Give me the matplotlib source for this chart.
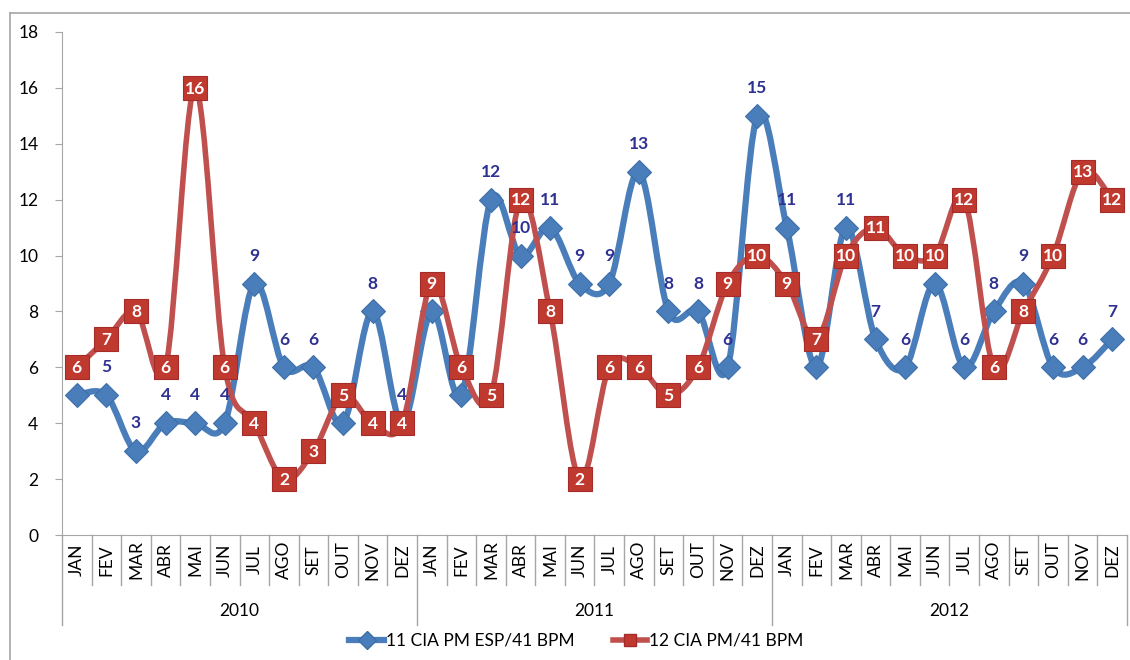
import matplotlib
matplotlib.use("Agg")
import matplotlib.pyplot as plt
from matplotlib.path import Path
from matplotlib.patches import PathPatch
from matplotlib.lines import Line2D

months = ["JAN", "FEV", "MAR", "ABR", "MAI", "JUN",
          "JUL", "AGO", "SET", "OUT", "NOV", "DEZ"]
years = ["2010", "2011", "2012"]

cia11 = [5, 5, 3, 4, 4, 4, 9, 6, 6, 4, 8, 4,
         8, 5, 12, 10, 11, 9, 9, 13, 8, 8, 6, 15,
         11, 6, 11, 7, 6, 9, 6, 8, 9, 6, 6, 7]
cia12 = [6, 7, 8, 6, 16, 6, 4, 2, 3, 5, 4, 4,
         9, 6, 5, 12, 8, 2, 6, 6, 5, 6, 9, 10,
         9, 7, 10, 11, 10, 10, 12, 6, 8, 10, 13, 12]

name11 = "11 CIA PM ESP/41 BPM"
name12 = "12 CIA PM/41 BPM"

BLUE = "#4a7ebb"
RED = "#c0504d"
LABEL_BLUE = "#2e3192"
GRID = "#a6a6a6"
FONT = ["Lato", "DejaVu Sans"]


def smooth_path(xs, ys):
    # excel-like smoothed line: bezier through every point
    pts = list(zip(xs, ys))
    n = len(pts)
    verts = [pts[0]]
    codes = [Path.MOVETO]
    for i in range(n - 1):
        p0 = pts[max(i - 1, 0)]
        p1 = pts[i]
        p2 = pts[i + 1]
        p3 = pts[min(i + 2, n - 1)]
        c1 = (p1[0] + (p2[0] - p0[0]) / 6, p1[1] + (p2[1] - p0[1]) / 6)
        c2 = (p2[0] - (p3[0] - p1[0]) / 6, p2[1] - (p3[1] - p1[1]) / 6)
        verts += [c1, c2, p2]
        codes += [Path.CURVE4] * 3
    return Path(verts, codes)


fig = plt.figure(figsize=(11.3, 6.6), dpi=100)
ax = fig.add_axes([62 / 1130, 1 - 535 / 660, (1127 - 62) / 1130, (535 - 32) / 660])

x = list(range(len(cia11)))

ax.add_patch(PathPatch(smooth_path(x, cia11), fill=False, edgecolor=BLUE,
                       lw=4.5, capstyle="round", joinstyle="round", zorder=2))
ax.plot(x, cia11, ls="none", marker="D", ms=12, mfc=BLUE, mec="#3d6fa8",
        mew=0.8, zorder=3)

ax.add_patch(PathPatch(smooth_path(x, cia12), fill=False, edgecolor=RED,
                       lw=4.0, capstyle="round", joinstyle="round", zorder=3.5))

for xi, v in zip(x, cia11):
    ax.annotate(str(v), (xi, v), xytext=(0, 20), textcoords="offset points",
                ha="center", va="center", color=LABEL_BLUE, fontsize=12.5,
                fontweight="bold", family=FONT, zorder=5)

# red boxes sit above the blue labels, as in the original
ax.plot(x, cia12, ls="none", marker="s", ms=17, mfc="#c0392f", mec="#a52a2a",
        mew=0.8, zorder=6)
for xi, v in zip(x, cia12):
    ax.annotate(str(v), (xi, v), xytext=(0, -0.5), textcoords="offset points",
                ha="center", va="center", color="white", fontsize=12.5,
                fontweight="bold", family=FONT, zorder=7)

ax.set_xlim(-0.5, len(x) - 0.5)
ax.set_ylim(0, 18)
ax.set_yticks(range(0, 19, 2))
ax.set_yticklabels([str(t) for t in range(0, 19, 2)], family=FONT, fontsize=12.5)
ax.tick_params(axis="y", length=5, color=GRID, pad=12)
ax.set_xticks([])

for s in ["top", "right"]:
    ax.spines[s].set_visible(False)
ax.spines["left"].set_color(GRID)
ax.spines["bottom"].set_color(GRID)

# two-level category axis
trans = ax.get_xaxis_transform()
for b in range(len(x) + 1):
    depth = 90 if b % 12 == 0 else 50
    ax.plot([b - 0.5, b - 0.5], [0, -depth / 503], transform=trans,
            color=GRID, lw=1, clip_on=False)
for xi in x:
    ax.text(xi, -25 / 503, months[xi % 12], transform=trans, rotation=90,
            ha="center", va="center", fontsize=12.5, family=FONT)
for k, yr in enumerate(years):
    ax.text(k * 12 + 5.5, -76 / 503, yr, transform=trans, ha="center",
            va="center", fontsize=12.5, family=FONT)

# outer chart border (top and left visible)
fig.add_artist(Line2D([10 / 1130, 1], [1 - 13 / 660, 1 - 13 / 660],
                      color=GRID, lw=1.2))
fig.add_artist(Line2D([10 / 1130, 10 / 1130], [0, 1 - 13 / 660],
                      color=GRID, lw=1.2))

handles = [
    Line2D([], [], color=BLUE, lw=4.5, marker="D", ms=9, mfc=BLUE, mec="#3d6fa8"),
    Line2D([], [], color=RED, lw=4.0, marker="s", ms=9, mfc="#c0392f", mec="#a52a2a"),
]
fig.legend(handles, [name11, name12], loc="center",
           bbox_to_anchor=(0.51, 1 - 641 / 660), ncol=2, frameon=False,
           handlelength=2.0, columnspacing=2.2, handletextpad=0.1,
           prop={"family": FONT, "size": 12.5})

fig.savefig("out.png", dpi=100)
